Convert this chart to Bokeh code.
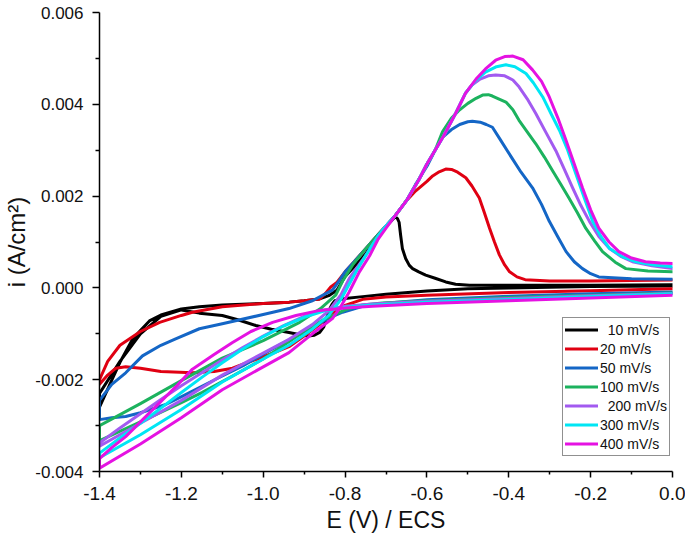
from bokeh.plotting import figure
from bokeh.models import Range1d, FixedTicker, PrintfTickFormatter
from bokeh.embed import file_html
from bokeh.resources import INLINE

# ---------------- data (E in V vs ECS, i in A/cm2) ----------------
labels = ["\u00a0\u00a010 mV/s", "20 mV/s", "50 mV/s", "100 mV/s",
          "\u00a0\u00a0200 mV/s", "300 mV/s", "400 mV/s"]
colors = ["#000000", "#E00012", "#1466C6", "#1CB25E", "#A25AF0", "#00E6F4", "#E512E2"]

# 10 mV/s
E10_fwd = [-1.4, -1.37, -1.35, -1.32, -1.3, -1.278, -1.25, -1.2, -1.156, -1.1, -1.0, -0.936, -0.9,
           -0.862, -0.84, -0.82, -0.8, -0.78, -0.75, -0.72, -0.7, -0.685, -0.677, -0.672, -0.668,
           -0.664, -0.66, -0.652, -0.643, -0.635, -0.62, -0.603, -0.58, -0.554, -0.53, -0.496,
           -0.4, -0.2, 0.0]
I10_fwd = [-0.0026, -0.00201, -0.00162, -0.00113, -0.00093, -0.00072, -0.00059, -0.00046, -0.00041,
           -0.00037, -0.00034, -0.00031, -0.00028, -0.00024, -0.00017, -0.00005, 0.00025, 0.00044,
           0.00074, 0.00113, 0.00133, 0.00148, 0.00155, 0.00151, 0.00143, 0.00113, 0.00086, 0.00064,
           0.00049, 0.00042, 0.00035, 0.00028, 0.00021, 0.00013, 0.00008, 0.00006, 0.00006, 0.00006,
           0.00007]
E10_rev = [0.0, -0.2, -0.4, -0.5, -0.6, -0.7, -0.757, -0.8, -0.825, -0.832, -0.838, -0.845, -0.852,
           -0.862, -0.875, -0.89, -0.91, -0.937, -0.98, -1.018, -1.06, -1.1, -1.156, -1.2, -1.25,
           -1.3, -1.35, -1.4]
I10_rev = [0.00004, 0.00003, 0.0, -0.00002, -0.00007, -0.00014, -0.00019, -0.00023, -0.00028,
           -0.00036, -0.00047, -0.00065, -0.00085, -0.00097, -0.00103, -0.00105, -0.00102, -0.00097,
           -0.0009, -0.00082, -0.0007, -0.0006, -0.00055, -0.00048, -0.00062, -0.001, -0.0016, -0.0023]

# 20 mV/s
E20_fwd = [-1.4, -1.38, -1.35, -1.3, -1.253, -1.2, -1.173, -1.1, -1.0, -0.937, -0.9, -0.862, -0.848,
           -0.835, -0.82, -0.8, -0.78, -0.75, -0.72, -0.7, -0.677, -0.65, -0.628, -0.6, -0.586,
           -0.57, -0.554, -0.54, -0.525, -0.505, -0.49, -0.472, -0.46, -0.447, -0.435, -0.423,
           -0.41, -0.398, -0.38, -0.36, -0.3, -0.2, 0.0]
I20_fwd = [-0.002, -0.0016, -0.00125, -0.00095, -0.00075, -0.0006, -0.00053, -0.00041, -0.00034,
           -0.00031, -0.00028, -0.00024, -0.00012, 0.00002, 0.00012, 0.00035, 0.00055, 0.00085,
           0.00115, 0.00135, 0.00158, 0.0019, 0.00211, 0.00232, 0.00244, 0.00253, 0.00259, 0.00258,
           0.00252, 0.0024, 0.00222, 0.00196, 0.00165, 0.0013, 0.001, 0.00072, 0.0005, 0.00035,
           0.00024, 0.00018, 0.00015, 0.00015, 0.00017]
E20_rev = [0.0, -0.2, -0.4, -0.6, -0.7, -0.757, -0.8, -0.83, -0.86, -0.9, -0.937, -0.97, -1.0,
           -1.04, -1.075, -1.12, -1.173, -1.25, -1.3, -1.336, -1.36, -1.38, -1.4]
I20_rev = [-0.00002, -0.00006, -0.0001, -0.00016, -0.0002, -0.00025, -0.00038, -0.00055, -0.00078,
           -0.00105, -0.00128, -0.0014, -0.0015, -0.00163, -0.00175, -0.00182, -0.00185, -0.00182,
           -0.00175, -0.00172, -0.00175, -0.0019, -0.0021]

# 50 mV/s
E50_fwd = [-1.4, -1.37, -1.336, -1.295, -1.25, -1.214, -1.156, -1.1, -1.0, -0.937, -0.88, -0.831,
           -0.815, -0.8, -0.78, -0.75, -0.72, -0.7, -0.677, -0.65, -0.628, -0.6, -0.58, -0.562,
           -0.54, -0.52, -0.5, -0.489, -0.47, -0.455, -0.44, -0.42, -0.391, -0.37, -0.342, -0.32,
           -0.301, -0.28, -0.26, -0.24, -0.22, -0.2, -0.18, -0.1, 0.0]
I50_fwd = [-0.00245, -0.0021, -0.00185, -0.00148, -0.00125, -0.00111, -0.00089, -0.00078, -0.00058,
           -0.00045, -0.00028, -0.00005, 0.00015, 0.00035, 0.00055, 0.00085, 0.00115, 0.00135,
           0.00158, 0.0019, 0.00225, 0.00265, 0.003, 0.00328, 0.00345, 0.00356, 0.00362, 0.00363,
           0.00361, 0.00356, 0.0035, 0.00322, 0.00281, 0.00252, 0.00218, 0.00182, 0.00145, 0.00111,
           0.00079, 0.00057, 0.00042, 0.00031, 0.00024, 0.0002, 0.00019]
E50_rev = [0.0, -0.2, -0.4, -0.6, -0.709, -0.757, -0.806, -0.84, -0.872, -0.93, -0.994, -1.05,
           -1.116, -1.18, -1.238, -1.3, -1.336, -1.37, -1.4]
I50_rev = [-0.00009, -0.00013, -0.00018, -0.00026, -0.00034, -0.0004, -0.00053, -0.00066, -0.00082,
           -0.0011, -0.00141, -0.0017, -0.00199, -0.00228, -0.00254, -0.00272, -0.0028, -0.00283,
           -0.00287]

# 100 mV/s
E100_fwd = [-1.4, -1.3, -1.2, -1.1, -1.0, -0.911, -0.86, -0.823, -0.806, -0.78, -0.75, -0.72, -0.7,
            -0.677, -0.65, -0.62, -0.6, -0.58, -0.562, -0.54, -0.52, -0.5, -0.48, -0.464, -0.45,
            -0.44, -0.425, -0.407, -0.39, -0.375, -0.355, -0.334, -0.313, -0.293, -0.273, -0.253,
            -0.232, -0.212, -0.19, -0.171, -0.14, -0.114, -0.06, 0.0]
I100_fwd = [-0.003, -0.00252, -0.00202, -0.00153, -0.00115, -0.00075, -0.00045, -0.00016, 0.00015,
            0.00052, 0.00085, 0.00115, 0.00135, 0.00158, 0.0019, 0.00235, 0.0027, 0.003, 0.0034,
            0.0037, 0.00388, 0.00402, 0.00413, 0.0042, 0.00421, 0.00418, 0.00412, 0.00405, 0.00388,
            0.00365, 0.0034, 0.00314, 0.00285, 0.00255, 0.00226, 0.00196, 0.00163, 0.0013, 0.00102,
            0.00079, 0.00056, 0.00042, 0.00037, 0.00035]
E100_rev = [0.0, -0.2, -0.4, -0.6, -0.709, -0.757, -0.8, -0.85, -0.9, -0.95, -1.0, -1.075, -1.15,
            -1.2, -1.3, -1.4]
I100_rev = [-0.00011, -0.00016, -0.00021, -0.00028, -0.00033, -0.00037, -0.00048, -0.00068,
            -0.00095, -0.00125, -0.00155, -0.00192, -0.00228, -0.0025, -0.00292, -0.00333]

# 200 mV/s
E200_fwd = [-1.4, -1.3, -1.2, -1.1, -1.0, -0.937, -0.88, -0.84, -0.81, -0.79, -0.77, -0.75, -0.72,
            -0.7, -0.677, -0.65, -0.62, -0.6, -0.58, -0.56, -0.53, -0.506, -0.49, -0.47, -0.45,
            -0.432, -0.41, -0.39, -0.375, -0.355, -0.334, -0.31, -0.285, -0.265, -0.244, -0.224,
            -0.203, -0.18, -0.154, -0.125, -0.098, -0.05, 0.0]
I200_fwd = [-0.00345, -0.00295, -0.00245, -0.0019, -0.00142, -0.00112, -0.0008, -0.0005, -0.00015,
            0.0002, 0.00045, 0.0007, 0.00112, 0.00135, 0.00158, 0.0019, 0.00235, 0.0027, 0.003,
            0.0033, 0.0038, 0.00424, 0.00442, 0.00455, 0.00462, 0.00464, 0.00462, 0.00453, 0.00438,
            0.00412, 0.0038, 0.0034, 0.00299, 0.0026, 0.00218, 0.0018, 0.00145, 0.00112, 0.00086,
            0.00068, 0.00057, 0.00048, 0.00042]
E200_rev = [0.0, -0.2, -0.4, -0.6, -0.733, -0.8, -0.85, -0.9, -0.95, -1.0, -1.05, -1.1, -1.15,
            -1.2, -1.25, -1.3, -1.35, -1.4]
I200_rev = [-0.00012, -0.00017, -0.00023, -0.00029, -0.00035, -0.0004, -0.00048, -0.00062,
            -0.00082, -0.00105, -0.0013, -0.00157, -0.00185, -0.00213, -0.00243, -0.00274, -0.00305,
            -0.00338]

# 300 mV/s
E300_fwd = [-1.4, -1.3, -1.2, -1.1, -1.0, -0.937, -0.88, -0.84, -0.81, -0.79, -0.77, -0.75, -0.72,
            -0.7, -0.677, -0.65, -0.62, -0.6, -0.58, -0.56, -0.53, -0.506, -0.48, -0.457, -0.43,
            -0.407, -0.385, -0.358, -0.34, -0.317, -0.297, -0.276, -0.256, -0.236, -0.215, -0.195,
            -0.175, -0.154, -0.12, -0.089, -0.045, 0.0]
I300_fwd = [-0.0037, -0.0032, -0.00265, -0.00205, -0.00155, -0.00125, -0.0009, -0.0006, -0.00025,
            0.00008, 0.0004, 0.0007, 0.00112, 0.00135, 0.00158, 0.0019, 0.00235, 0.0027, 0.003,
            0.0033, 0.0038, 0.00424, 0.00453, 0.0047, 0.00482, 0.00486, 0.00482, 0.00467, 0.00447,
            0.00416, 0.0038, 0.00343, 0.003, 0.00248, 0.00195, 0.00145, 0.00112, 0.00086, 0.00067,
            0.00057, 0.0005, 0.00046]
E300_rev = [0.0, -0.2, -0.4, -0.6, -0.733, -0.8, -0.85, -0.9, -0.95, -1.0, -1.05, -1.1, -1.15,
            -1.2, -1.25, -1.3, -1.35, -1.4]
I300_rev = [-0.00013, -0.00019, -0.00025, -0.00031, -0.00037, -0.00042, -0.0005, -0.00064,
            -0.00083, -0.00106, -0.00133, -0.00163, -0.00195, -0.00228, -0.00262, -0.00295, -0.00327,
            -0.0036]

# 400 mV/s
E400_fwd = [-1.4, -1.3, -1.2, -1.1, -1.0, -0.937, -0.88, -0.831, -0.81, -0.79, -0.765, -0.74, -0.72,
            -0.7, -0.677, -0.65, -0.62, -0.6, -0.58, -0.56, -0.53, -0.506, -0.48, -0.457, -0.432,
            -0.41, -0.39, -0.365, -0.342, -0.32, -0.301, -0.28, -0.26, -0.24, -0.22, -0.2, -0.18,
            -0.155, -0.131, -0.1, -0.066, -0.03, 0.0]
I400_fwd = [-0.00393, -0.0034, -0.00283, -0.00222, -0.00172, -0.00141, -0.001, -0.00067, -0.0004,
            -0.00009, 0.00035, 0.0007, 0.00105, 0.0013, 0.00158, 0.0019, 0.00235, 0.0027, 0.003,
            0.0033, 0.0038, 0.00424, 0.00455, 0.00477, 0.00496, 0.00504, 0.00505, 0.00497, 0.00475,
            0.0045, 0.00416, 0.0037, 0.00321, 0.0027, 0.00218, 0.0017, 0.0013, 0.001, 0.00079,
            0.00065, 0.00057, 0.00054, 0.00053]
E400_rev = [0.0, -0.2, -0.4, -0.6, -0.733, -0.8, -0.862, -0.92, -0.977, -1.03, -1.075, -1.12,
            -1.173, -1.21, -1.254, -1.3, -1.336, -1.37, -1.4]
I400_rev = [-0.00016, -0.00022, -0.00028, -0.00034, -0.0004, -0.00044, -0.00049, -0.0006, -0.00075,
            -0.00095, -0.00119, -0.00145, -0.00177, -0.00212, -0.00251, -0.00292, -0.00324, -0.00348,
            -0.00372]

x_ticks = [-1.4, -1.2, -1.0, -0.8, -0.6, -0.4, -0.2, 0.0]
x_minor = [-1.3, -1.1, -0.9, -0.7, -0.5, -0.3, -0.1]
y_ticks = [-0.004, -0.002, 0.0, 0.002, 0.004, 0.006]
y_minor = [-0.003, -0.001, 0.001, 0.003, 0.005]

series = [
    (E10_rev + E10_fwd, I10_rev + I10_fwd),
    (E20_rev + E20_fwd, I20_rev + I20_fwd),
    (E50_rev + E50_fwd, I50_rev + I50_fwd),
    (E100_rev + E100_fwd, I100_rev + I100_fwd),
    (E200_rev + E200_fwd, I200_rev + I200_fwd),
    (E300_rev + E300_fwd, I300_rev + I300_fwd),
    (E400_rev + E400_fwd, I400_rev + I400_fwd),
]

FONT = "Liberation Sans"

p = figure(width=685, height=535, output_backend="svg", toolbar_location=None,
           x_range=Range1d(-1.4, 0.0), y_range=Range1d(-0.004, 0.006),
           min_border_left=99, min_border_right=13, min_border_top=12, min_border_bottom=64)
p.outline_line_color = None
p.xgrid.visible = False
p.ygrid.visible = False
p.background_fill_color = "white"
p.border_fill_color = "white"

for (ex, iy), col, lab in zip(series, colors, labels):
    p.line(ex, iy, line_color=col, line_width=3, line_join="round", line_cap="round",
           legend_label=lab)

for ax in (p.xaxis[0], p.yaxis[0]):
    ax.axis_line_color = "black"
    ax.axis_line_width = 1.5
    ax.major_tick_line_color = "black"
    ax.major_tick_line_width = 1.5
    ax.minor_tick_line_color = "black"
    ax.minor_tick_line_width = 1.5
    ax.major_tick_in = 0
    ax.minor_tick_in = 0
    ax.major_label_text_font = FONT
    ax.major_label_text_color = "#111111"
    ax.axis_label_text_font = FONT
    ax.axis_label_text_font_style = "normal"
    ax.axis_label_text_color = "#111111"

p.xaxis.ticker = FixedTicker(ticks=x_ticks, minor_ticks=x_minor)
p.yaxis.ticker = FixedTicker(ticks=y_ticks, minor_ticks=y_minor)
p.xaxis.formatter = PrintfTickFormatter(format="%.1f")
p.yaxis.formatter = PrintfTickFormatter(format="%.3f")

p.xaxis.major_tick_out = 6
p.xaxis.minor_tick_out = 3
p.xaxis.major_label_standoff = 9
p.xaxis.major_label_text_font_size = "19px"
p.xaxis.axis_label = "E (V) / ECS"
p.xaxis.axis_label_text_font_size = "23px"
p.xaxis.axis_label_standoff = 4

p.yaxis.major_tick_out = 7
p.yaxis.minor_tick_out = 4
p.yaxis.major_label_standoff = 9
p.yaxis.major_label_text_font_size = "17px"
p.yaxis.axis_label = "i (A/cm\u00b2)"
p.yaxis.axis_label_text_font_size = "24px"
p.yaxis.axis_label_standoff = 2

lg = p.legend[0]
lg.location = (463, 15)
lg.label_text_font = FONT
lg.label_text_font_size = "14px"
lg.label_text_color = "#111111"
lg.glyph_width = 33
lg.glyph_height = 19
lg.label_height = 19
lg.label_standoff = 2
lg.spacing = 0
lg.padding = 2
lg.margin = 0
lg.border_line_color = "#222222"
lg.border_line_width = 1
lg.background_fill_color = "white"
lg.background_fill_alpha = 1.0

open("out.html", "w").write(file_html(p, INLINE))
